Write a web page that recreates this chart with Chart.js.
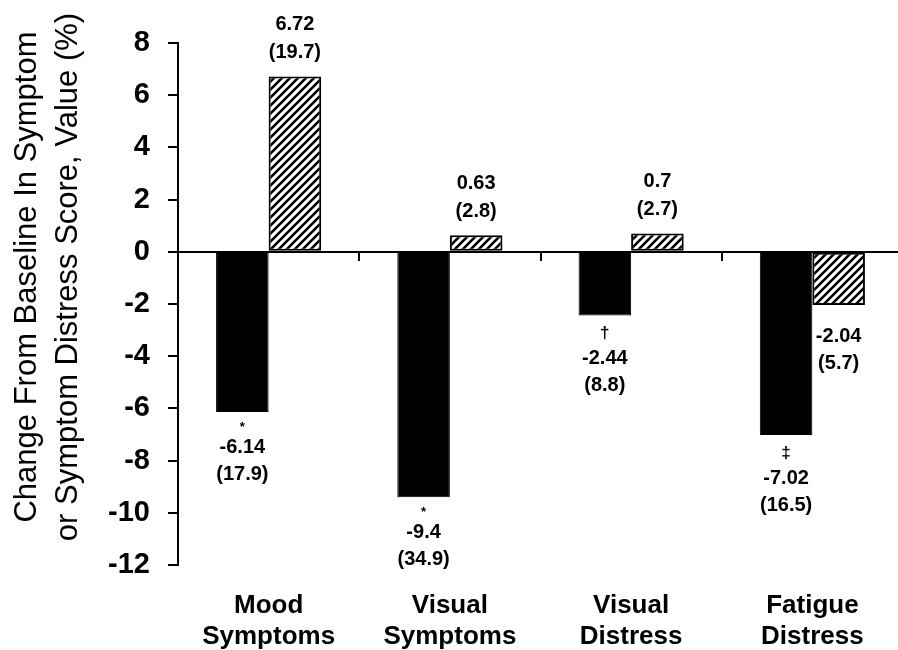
<!DOCTYPE html>
<html lang="en">
<head>
  <meta charset="UTF-8" />
  <title>Change From Baseline In Symptom Score</title>
  <script src="https://cdn.jsdelivr.net/npm/chart.js"></script>
  <style>
    body { margin: 0; background: #fff; overflow: hidden; }
    #wrap { width: 898px; height: 650px; overflow: hidden; }
  </style>
</head>
<body>
  <div id="wrap"><canvas id="chart" width="903" height="650"></canvas></div>

  <script>
    // data
    const categories = [['Mood', 'Symptoms'], ['Visual', 'Symptoms'], ['Visual', 'Distress'], ['Fatigue', 'Distress']];
    const solidValues = [-6.14, -9.4, -2.44, -7.02];
    const solidSD = ['17.9', '34.9', '8.8', '16.5'];
    const solidMarks = ['*', '*', '\u2020', '\u2021'];
    const hatchValues = [6.72, 0.63, 0.7, -2.04];
    const hatchSD = ['19.7', '2.8', '2.7', '5.7'];
    const yTicks = [-12, -10, -8, -6, -4, -2, 0, 2, 4, 6, 8];
    const yTitle = ['Change From Baseline In Symptom', 'or Symptom Distress Score, Value (%)'];

    const FONT = '"Liberation Sans", Arial, Helvetica, sans-serif';
    Chart.defaults.font.family = FONT;
    Chart.defaults.color = '#000';

    const canvas = document.getElementById('chart');

    function makeHatch(ctx) {
      const c = document.createElement('canvas');
      c.width = 8; c.height = 8;
      const g = c.getContext('2d');
      g.fillStyle = '#fff';
      g.fillRect(0, 0, 8, 8);
      g.strokeStyle = '#000';
      g.lineWidth = 2.6;
      g.beginPath();
      g.moveTo(-2, 10); g.lineTo(10, -2);
      g.moveTo(-2, 2); g.lineTo(2, -2);
      g.moveTo(6, 10); g.lineTo(10, 6);
      g.stroke();
      return ctx.createPattern(c, 'repeat');
    }

    // value / (SD) labels next to each bar
    const barLabels = {
      id: 'barLabels',
      afterDatasetsDraw(chart) {
        const ctx = chart.ctx;
        ctx.save();
        ctx.fillStyle = '#000';
        ctx.textAlign = 'center';
        ctx.textBaseline = 'middle';
        chart.data.datasets.forEach((ds, di) => {
          chart.getDatasetMeta(di).data.forEach((bar, i) => {
            const v = ds.data[i];
            const sd = '(' + ds.sd[i] + ')';
            const mark = ds.marks ? ds.marks[i] : '';
            const x = bar.x;
            ctx.font = 'bold 20px ' + FONT;
            if (v >= 0) {
              ctx.fillText(String(v), x, bar.y - 52);
              ctx.fillText(sd, x, bar.y - 24);
              return;
            }
            let y = bar.y;
            if (mark === '*') {
              ctx.font = 'bold 13px ' + FONT;
              ctx.fillText(mark, x, y + 15);
              y += 35;
            } else if (mark) {
              ctx.font = 'bold 17px ' + FONT;
              ctx.fillText(mark, x, y + 18);
              y += 43;
            } else {
              y += 31;
            }
            ctx.font = 'bold 20px ' + FONT;
            ctx.fillText(String(v), x, y);
            ctx.fillText(sd, x, y + 27);
          });
        });
        ctx.restore();
      }
    };

    // two-line rotated y-axis title
    const yTitlePlugin = {
      id: 'yTitle',
      afterDraw(chart) {
        const ctx = chart.ctx;
        ctx.save();
        ctx.fillStyle = '#000';
        ctx.font = '31px ' + FONT;
        ctx.textAlign = 'center';
        ctx.textBaseline = 'alphabetic';
        const cy = 277;
        [[36, yTitle[0]], [77, yTitle[1]]].forEach(([bx, text]) => {
          ctx.save();
          ctx.translate(bx, cy);
          ctx.rotate(-Math.PI / 2);
          ctx.fillText(text, 0, 0);
          ctx.restore();
        });
        ctx.restore();
      }
    };

    new Chart(canvas, {
      type: 'bar',
      data: {
        labels: categories,
        datasets: [
          {
            label: 'Solid',
            data: solidValues,
            sd: solidSD,
            marks: solidMarks,
            backgroundColor: '#000',
            borderColor: '#000',
            borderWidth: 1,
            xAxisID: 'x',
            categoryPercentage: 0.58,
            barPercentage: 1.0
          },
          {
            label: 'Hatched',
            data: hatchValues,
            sd: hatchSD,
            backgroundColor: makeHatch(canvas.getContext('2d')),
            borderColor: '#000',
            borderWidth: 2,
            borderSkipped: false,
            xAxisID: 'x',
            categoryPercentage: 0.58,
            barPercentage: 1.0
          }
        ]
      },
      options: {
        responsive: false,
        animation: false,
        devicePixelRatio: 1,
        layout: { padding: { top: 43, right: 0, bottom: 0, left: 0 } },
        plugins: { legend: { display: false }, tooltip: { enabled: false } },
        scales: {
          x: {
            position: 'bottom',
            grid: { display: false, drawTicks: false },
            border: { display: false },
            ticks: {
              color: '#000',
              font: { size: 26, weight: 'bold' },
              padding: 25,
              maxRotation: 0,
              autoSkip: false
            },
            afterFit: s => { s.height = 85; }
          },
          xz: {
            type: 'category',
            position: { y: 0 },
            offset: true,
            grid: { offset: true, drawOnChartArea: false, drawTicks: true, tickLength: 9, color: '#000', lineWidth: 2 },
            ticks: { display: false },
            border: { display: false },
            afterFit: s => { s.height = 0; }
          },
          y: {
            min: -12,
            max: 8,
            afterBuildTicks: s => { s.ticks = yTicks.map(v => ({ value: v })); },
            afterFit: s => { s.width = 178; },
            grid: {
              color: c => (c.tick && c.tick.value === 0 ? '#000' : 'rgba(0,0,0,0)'),
              tickColor: '#000',
              lineWidth: 2,
              tickLength: 10,
              drawTicks: true
            },
            border: { display: true, color: '#000', width: 2 },
            ticks: { color: '#000', font: { size: 29, weight: 'bold' }, padding: 18 }
          }
        }
      },
      plugins: [barLabels, yTitlePlugin]
    });
  </script>
</body>
</html>
